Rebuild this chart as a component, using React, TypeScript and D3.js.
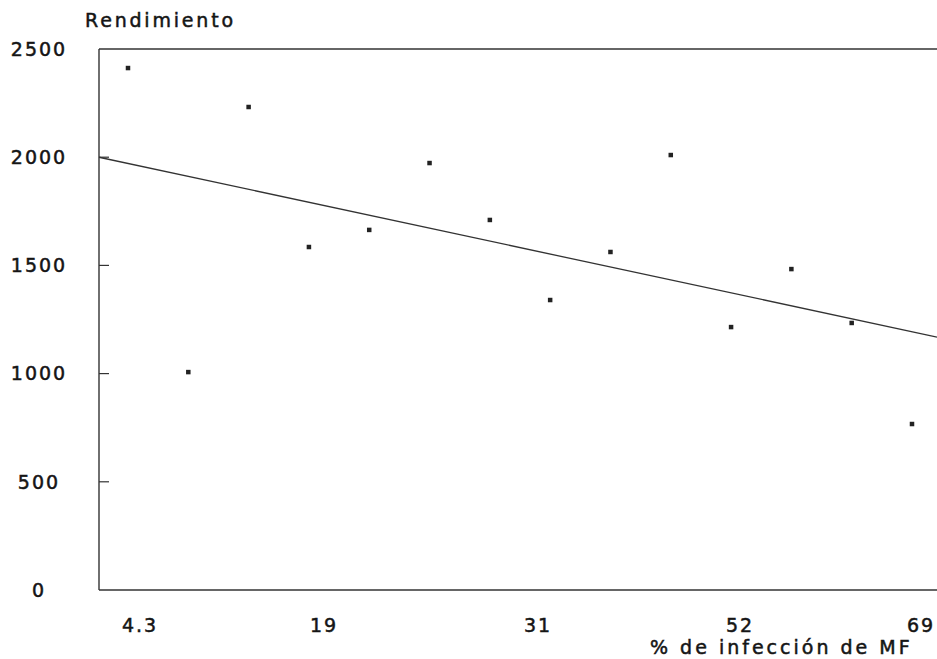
import React, { useEffect, useRef } from "react";
import * as d3 from "d3";

// sample order along the x axis (14 plots, ranked by % infection)
const samples = d3.range(14);
const yieldValues = [2412, 1007, 2232, 1585, 1664, 1973, 1710, 1340, 1562, 2010, 1215, 1483, 1234, 767];

// x tick labels and the sample rank they sit at
const xTickLabels = ["4.3", "19", "31", "52", "69"];
const xTickAt = [0.2, 3.25, 6.8, 10.15, 13.15];

const yTicks = [0, 500, 1000, 1500, 2000, 2500];

// fitted line (yield = a + b * rank)
const trendIntercept = 1971;
const trendSlope = -59.8;

const W = 937;
const H = 659;
const plot = { left: 99, right: 937, top: 49, bottom: 590 };

export default function App() {
  const ref = useRef<SVGSVGElement>(null);

  useEffect(() => {
    if (!ref.current) return;
    const svg = d3.select(ref.current);
    svg.selectAll("*").remove();

    const font = "'DejaVu Sans', Verdana, sans-serif";
    const ink = "#151515";

    const x = d3.scaleLinear().domain([0, 13]).range([128, 912]);
    const y = d3.scaleLinear().domain([0, 2500]).range([plot.bottom, plot.top]);

    // frame: left axis, top and bottom lines
    svg.append("line")
      .attr("x1", plot.left).attr("x2", plot.left)
      .attr("y1", plot.top).attr("y2", plot.bottom)
      .attr("stroke", "#333").attr("stroke-width", 1.4);
    svg.append("line")
      .attr("x1", plot.left).attr("x2", plot.right)
      .attr("y1", plot.top).attr("y2", plot.top)
      .attr("stroke", "#333").attr("stroke-width", 1.4);
    svg.append("line")
      .attr("x1", plot.left).attr("x2", plot.right)
      .attr("y1", plot.bottom).attr("y2", plot.bottom)
      .attr("stroke", "#333").attr("stroke-width", 1.4);

    // inward tick marks
    svg.append("g")
      .selectAll("line")
      .data(yTicks.filter((t) => t > 0 && t < 2500))
      .join("line")
      .attr("x1", plot.left).attr("x2", plot.left + 10)
      .attr("y1", (d) => y(d)).attr("y2", (d) => y(d))
      .attr("stroke", "#333").attr("stroke-width", 1.2);

    // slightly stroked text to get the heavier printed look
    const label = (sel: any, spacing: number) =>
      sel
        .style("font", `19px ${font}`)
        .style("letter-spacing", `${spacing}px`)
        .attr("fill", ink)
        .attr("stroke", ink)
        .attr("stroke-width", 0.5);

    svg.append("g")
      .selectAll("text")
      .data(yTicks)
      .join("text")
      .attr("x", 39)
      .attr("y", (d) => y(d))
      .attr("dy", "0.36em")
      .attr("text-anchor", "middle")
      .call(label, 2)
      .text((d) => String(d));

    svg.append("g")
      .selectAll("text")
      .data(xTickLabels)
      .join("text")
      .attr("x", (d, i) => x(xTickAt[i]))
      .attr("y", 625)
      .attr("dy", "0.36em")
      .attr("text-anchor", "middle")
      .call(label, 2)
      .text((d) => d);

    svg.append("text")
      .attr("x", 85).attr("y", 20).attr("dy", "0.36em")
      .call(label, 2.8)
      .text("Rendimiento");

    svg.append("text")
      .attr("x", 650).attr("y", 647).attr("dy", "0.36em")
      .call(label, 3)
      .text("% de infección de MF");

    // regression line across the whole plot
    const r0 = x.invert(plot.left);
    const r1 = x.invert(plot.right);
    svg.append("line")
      .attr("x1", x(r0)).attr("y1", y(trendIntercept + trendSlope * r0))
      .attr("x2", x(r1)).attr("y2", y(trendIntercept + trendSlope * r1))
      .attr("stroke", "#333").attr("stroke-width", 1.3);

    svg.append("g")
      .selectAll("rect")
      .data(samples)
      .join("rect")
      .attr("x", (d) => x(d) - 2.25)
      .attr("y", (d) => y(yieldValues[d]) - 2.25)
      .attr("width", 4.5)
      .attr("height", 4.5)
      .attr("fill", "#222");
  }, []);

  return (
    <svg
      ref={ref}
      width={W}
      height={H}
      style={{ position: "absolute", left: 0, top: 0, background: "#fff" }}
    />
  );
}
